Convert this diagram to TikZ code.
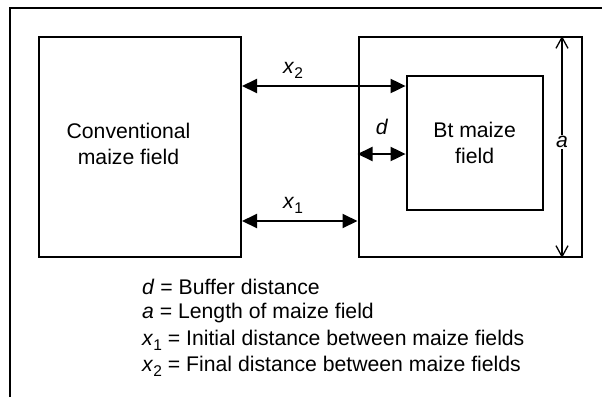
\documentclass[tikz,border=0pt]{standalone}
\usepackage{fontspec}
\setmainfont{Liberation Sans}
\usetikzlibrary{arrows.meta}

\newcommand{\varsub}[2]{\textit{#1}\raisebox{-0.45ex}{\fontsize{15.5}{15.5}\selectfont #2}}

\tikzset{
  field/.style={draw,line width=2pt,inner sep=0pt},
  dimline/.style={line width=2pt,{Triangle[length=15pt,width=14pt]}-{Triangle[length=15pt,width=14pt]}},
  lenline/.style={line width=1.3pt,{Straight Barb[length=11pt,width=12pt]}-{Straight Barb[length=11pt,width=12pt]}},
  legend/.style={anchor=west,inner sep=0pt}
}

\begin{document}
\begin{tikzpicture}[x=1pt,y=-1pt,font=\fontsize{21.2}{25.5}\selectfont]
\useasboundingbox (0,0) rectangle (602,397);
\draw[line width=2.2pt] (10,397) -- (10,8) -- (602,8);

% the two fields
\node[field,minimum width=202.5pt,minimum height=220pt] (conv) at (139.75,147) {};
\node[align=center] (convtext) at (128.5,144) {Conventional\\maize field};
\node[field,minimum width=223pt,minimum height=220pt] (buf) at (470,147) {};
\node[field,minimum width=136pt,minimum height=134pt,align=center] (bt) at (474.6,143) {Bt maize\\field};

% distances
\draw[dimline] (conv.east |- 0,86) -- (bt.west |- 0,86);
\node (xtwo) at (293,70) {\varsub{x}{2}};
\draw[dimline] (conv.east |- 0,221) -- (buf.west |- 0,221);
\node (xone) at (293,205) {\varsub{x}{1}};
\draw[dimline] (buf.west |- 0,154) -- (bt.west |- 0,154);
\node (dlab) at (382,127) {\textit{d}};
\draw[lenline] (buf.north -| 562,0) -- (buf.south -| 562,0);
\node[fill=white,inner sep=1pt] (alab) at (562,142) {\textit{a}};

% legend
\node[legend] (legd) at (142,287) {\textit{d} = Buffer distance};
\node[legend] (lega) at (142,313) {\textit{a} = Length of maize field};
\node[legend] (legx1) at (142,340) {\varsub{x}{1} = Initial distance between maize fields};
\node[legend] (legx2) at (142,366) {\varsub{x}{2} = Final distance between maize fields};
\end{tikzpicture}
\end{document}
